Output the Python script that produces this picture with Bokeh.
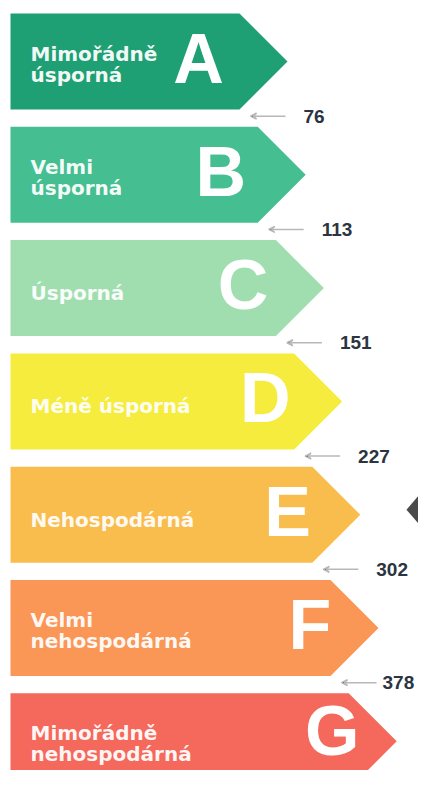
from bokeh.plotting import figure
from bokeh.models import Range1d, Arrow, VeeHead
from bokeh.core.properties import value
from bokeh.embed import file_html
from bokeh.resources import INLINE

# ---- data ----
classes = ["A", "B", "C", "D", "E", "F", "G"]
labels = ["Mimořádně\núsporná", "Velmi\núsporná", "Úsporná", "Méně úsporná",
          "Nehospodárná", "Velmi\nnehospodárná", "Mimořádně\nnehospodárná"]
colors = ["#1fa074", "#45be91", "#a0deaf", "#f6ec3e", "#f9bd4e", "#fa9656", "#f4695b"]
thresholds = [76, 113, 151, 227, 302, 378]
current_class = "E"

# ---- layout (pixel space of the picture) ----
W, H = 418, 770
LEFT = 10
TOP0 = 13
STEP = 113.3
BAR_H = 96
TIP0 = 287
TIP_STEP = 18.2
SHOULDER = 48

p = figure(width=W, height=H, output_backend="svg", toolbar_location=None,
           x_range=Range1d(0, W), y_range=Range1d(H, 0),
           min_border=0, outline_line_color=None)
p.axis.visible = False
p.grid.visible = False
p.background_fill_color = "white"
p.border_fill_color = "white"

xs, ys, centers, tips, bottoms = [], [], [], [], []
for i, c in enumerate(classes):
    top = TOP0 + STEP * i
    bot = top + BAR_H
    mid = (top + bot) / 2
    tip = TIP0 + TIP_STEP * i
    right = tip - SHOULDER
    xs.append([LEFT, right, tip, right, LEFT])
    ys.append([top, top, mid, bot, bot])
    centers.append(mid)
    tips.append(tip)
    bottoms.append(bot)

p.patches(xs=xs, ys=ys, fill_color=colors, line_color=None)

# class letters (kept inside the frame)
p.text(x=[198 + 22.3 * i for i in range(len(classes))],
       y=[min(c - 3, H - 40) for c in centers], text=classes,
       text_font=value("Liberation Sans"), text_font_style="bold",
       text_font_size="70px", text_color="white",
       text_align="center", text_baseline="middle")

# descriptive labels
lx, ly, lt = [], [], []
for i, lab in enumerate(labels):
    parts = lab.split("\n")
    if len(parts) == 1:
        lx.append(30); ly.append(centers[i] + 5); lt.append(parts[0])
    else:
        for k, part in enumerate(parts):
            lx.append(30); ly.append(centers[i] - 8 + 21 * k); lt.append(part)
p.text(x=lx, y=ly, text=lt, text_font=value("DejaVu Sans"),
       text_font_style="bold", text_font_size="20px", text_color="white",
       text_align="left", text_baseline="middle", text_alpha=0.95)

# thresholds with small arrows
nx, ny, nt = [], [], []
for i, t in enumerate(thresholds):
    gap_mid = (bottoms[i] + TOP0 + STEP * (i + 1)) / 2 - 2
    tip = tips[i]
    p.add_layout(Arrow(x_start=tip - 2, y_start=gap_mid, x_end=tip - 37, y_end=gap_mid,
                       line_color="#b8b8b8", line_width=1.5,
                       end=VeeHead(size=6, line_color="#b8b8b8", line_width=1.5)))
    nx.append(min(tip + 16, W - 36)); ny.append(gap_mid); nt.append(str(t))
p.text(x=nx, y=ny, text=nt, text_font=value("Liberation Sans"),
       text_font_style="bold", text_font_size="19px", text_color="#2b3440",
       text_align="left", text_baseline="middle")

# current class marker at the right edge
ci = classes.index(current_class)
my = centers[ci] - 5
p.patch(x=[W - 12, W, W], y=[my, my - 14, my + 14], fill_color="#4a4a4a", line_color=None)

open("out.html", "w").write(file_html(p, INLINE))
